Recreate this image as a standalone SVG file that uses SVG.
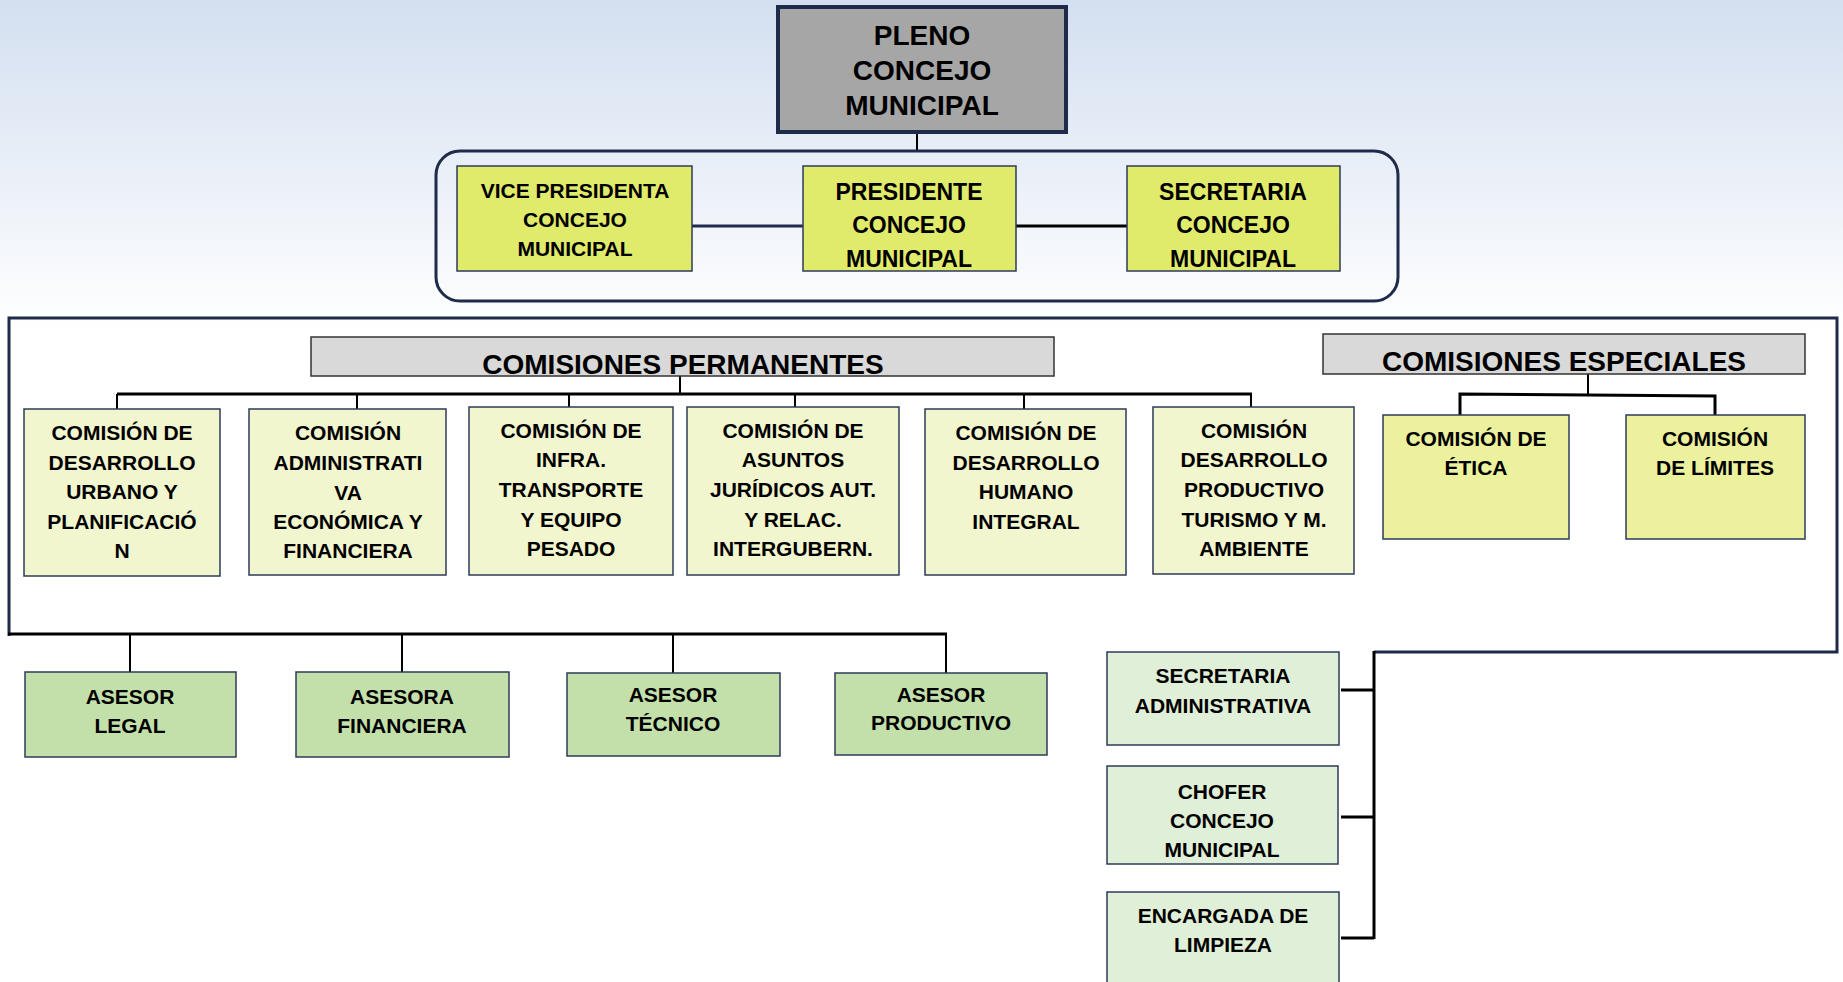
<svg xmlns="http://www.w3.org/2000/svg" width="1843" height="982" viewBox="0 0 1843 982">
<defs>
<linearGradient id="bg" x1="0" y1="0" x2="0" y2="330" gradientUnits="userSpaceOnUse">
<stop offset="0" stop-color="#d3dff0"/>
<stop offset="1" stop-color="#ffffff"/>
</linearGradient>
<style>
text{font-family:"Liberation Sans",Arial,sans-serif;font-weight:bold;fill:#000;text-anchor:middle}
.t21{font-size:21px}
.t23{font-size:23px}
.t28{font-size:28px}
.t27{font-size:28px}
.box{stroke:#2e3b5a;stroke-width:1.5}
.ylw{fill:#e1eb6b}
.pale{fill:#f2f6cf}
.esp{fill:#ebf19c}
.grn{fill:#c3e0ab}
.lgrn{fill:#e0efd7}
.hdr{fill:#d9d9d9;stroke:#333;stroke-width:1.5}
.c{stroke:#000;stroke-width:2;fill:none}
.cb{stroke:#000;stroke-width:3;fill:none}
.nav{stroke:#1f2b4a;stroke-width:3;fill:none}
</style>
</defs>
<rect x="0" y="0" width="1843" height="982" fill="url(#bg)"/>

<g id="connectors">
<line class="c" x1="917" y1="133" x2="917" y2="151"/>
<line class="nav" x1="692" y1="226" x2="803" y2="226" stroke-width="2.5"/>
<line class="cb" x1="1016" y1="226" x2="1127" y2="226"/>
<polyline class="nav" points="9,636 9,318 1837,318 1837,652 1374,652"/>
<line class="c" x1="680" y1="376" x2="680" y2="394"/>
<line class="cb" x1="117" y1="394" x2="1252" y2="394"/>
<line class="c" x1="117" y1="394" x2="117" y2="409"/>
<line class="c" x1="357" y1="394" x2="357" y2="409"/>
<line class="c" x1="569" y1="394" x2="569" y2="407"/>
<line class="c" x1="795" y1="394" x2="795" y2="407"/>
<line class="c" x1="1024" y1="394" x2="1024" y2="409"/>
<line class="c" x1="1251" y1="394" x2="1251" y2="407"/>
<line class="c" x1="1588" y1="374" x2="1588" y2="395"/>
<polyline class="cb" points="1460,415 1460,394 1715,396 1715,415"/>
<line class="cb" x1="8" y1="634" x2="947" y2="634"/>
<line class="c" x1="130" y1="634" x2="130" y2="672"/>
<line class="c" x1="402" y1="634" x2="402" y2="672"/>
<line class="c" x1="673" y1="634" x2="673" y2="673"/>
<line class="c" x1="946" y1="634" x2="946" y2="673"/>
<line class="cb" x1="1374" y1="651" x2="1374" y2="939"/>
<line class="cb" x1="1341" y1="690" x2="1374" y2="690"/>
<line class="cb" x1="1341" y1="817" x2="1374" y2="817"/>
<line class="cb" x1="1341" y1="938" x2="1374" y2="938"/>
</g>

<g id="pleno">
<rect x="778" y="7" width="288" height="125" fill="#a6a6a6" stroke="#1f2b4a" stroke-width="4"/>
<text class="t28" x="922" y="45">PLENO</text>
<text class="t28" x="922" y="80">CONCEJO</text>
<text class="t28" x="922" y="115">MUNICIPAL</text>
</g>

<g id="directiva">
<rect x="436" y="151" width="962" height="150" rx="24" ry="24" class="nav"/>
</g>

<g id="vicepresidenta">
<rect x="457" y="166" width="235" height="105" class="box ylw"/>
<text class="t21" x="575" y="198">VICE PRESIDENTA</text>
<text class="t21" x="575" y="227">CONCEJO</text>
<text class="t21" x="575" y="256">MUNICIPAL</text>
</g>
<g id="presidente">
<rect x="803" y="166" width="213" height="105" class="box ylw"/>
<text class="t23" x="909" y="200">PRESIDENTE</text>
<text class="t23" x="909" y="233">CONCEJO</text>
<text class="t23" x="909" y="267">MUNICIPAL</text>
</g>
<g id="secretaria">
<rect x="1127" y="166" width="213" height="105" class="box ylw"/>
<text class="t23" x="1233" y="200">SECRETARIA</text>
<text class="t23" x="1233" y="233">CONCEJO</text>
<text class="t23" x="1233" y="267">MUNICIPAL</text>
</g>

<g id="comisiones-permanentes">
<rect x="311" y="337" width="743" height="39" class="hdr"/>
<text class="t27" x="683" y="374">COMISIONES PERMANENTES</text>
</g>
<g id="comisiones-especiales">
<rect x="1323" y="334" width="482" height="40" class="hdr"/>
<text class="t27" x="1564" y="371">COMISIONES ESPECIALES</text>
</g>

<g id="com-urbano">
<rect x="24" y="409" width="196" height="167" class="box pale"/>
<text class="t21" x="122" y="440">COMISIÓN DE</text>
<text class="t21" x="122" y="470">DESARROLLO</text>
<text class="t21" x="122" y="499">URBANO Y</text>
<text class="t21" x="122" y="529">PLANIFICACIÓ</text>
<text class="t21" x="122" y="558">N</text>
</g>
<g id="com-administrativa">
<rect x="249" y="409" width="197" height="166" class="box pale"/>
<text class="t21" x="348" y="440">COMISIÓN</text>
<text class="t21" x="348" y="470">ADMINISTRATI</text>
<text class="t21" x="348" y="500">VA</text>
<text class="t21" x="348" y="529">ECONÓMICA Y</text>
<text class="t21" x="348" y="558">FINANCIERA</text>
</g>
<g id="com-infra">
<rect x="469" y="407" width="204" height="168" class="box pale"/>
<text class="t21" x="571" y="438">COMISIÓN DE</text>
<text class="t21" x="571" y="467">INFRA.</text>
<text class="t21" x="571" y="497">TRANSPORTE</text>
<text class="t21" x="571" y="527">Y EQUIPO</text>
<text class="t21" x="571" y="556">PESADO</text>
</g>
<g id="com-juridicos">
<rect x="687" y="407" width="212" height="168" class="box pale"/>
<text class="t21" x="793" y="438">COMISIÓN DE</text>
<text class="t21" x="793" y="467">ASUNTOS</text>
<text class="t21" x="793" y="497">JURÍDICOS AUT.</text>
<text class="t21" x="793" y="527">Y RELAC.</text>
<text class="t21" x="793" y="556">INTERGUBERN.</text>
</g>
<g id="com-humano">
<rect x="925" y="409" width="201" height="166" class="box pale"/>
<text class="t21" x="1026" y="440">COMISIÓN DE</text>
<text class="t21" x="1026" y="470">DESARROLLO</text>
<text class="t21" x="1026" y="499">HUMANO</text>
<text class="t21" x="1026" y="529">INTEGRAL</text>
</g>
<g id="com-productivo">
<rect x="1153" y="407" width="201" height="167" class="box pale"/>
<text class="t21" x="1254" y="438">COMISIÓN</text>
<text class="t21" x="1254" y="467">DESARROLLO</text>
<text class="t21" x="1254" y="497">PRODUCTIVO</text>
<text class="t21" x="1254" y="527">TURISMO Y M.</text>
<text class="t21" x="1254" y="556">AMBIENTE</text>
</g>

<g id="com-etica">
<rect x="1383" y="415" width="186" height="124" class="box esp"/>
<text class="t21" x="1476" y="446">COMISIÓN DE</text>
<text class="t21" x="1476" y="475">ÉTICA</text>
</g>
<g id="com-limites">
<rect x="1626" y="415" width="179" height="124" class="box esp"/>
<text class="t21" x="1715" y="446">COMISIÓN</text>
<text class="t21" x="1715" y="475">DE LÍMITES</text>
</g>

<g id="asesor-legal">
<rect x="25" y="672" width="211" height="85" class="box grn"/>
<text class="t21" x="130" y="704">ASESOR</text>
<text class="t21" x="130" y="733">LEGAL</text>
</g>
<g id="asesora-financiera">
<rect x="296" y="672" width="213" height="85" class="box grn"/>
<text class="t21" x="402" y="704">ASESORA</text>
<text class="t21" x="402" y="733">FINANCIERA</text>
</g>
<g id="asesor-tecnico">
<rect x="567" y="673" width="213" height="83" class="box grn"/>
<text class="t21" x="673" y="702">ASESOR</text>
<text class="t21" x="673" y="731">TÉCNICO</text>
</g>
<g id="asesor-productivo">
<rect x="835" y="673" width="212" height="82" class="box grn"/>
<text class="t21" x="941" y="702">ASESOR</text>
<text class="t21" x="941" y="730">PRODUCTIVO</text>
</g>

<g id="secretaria-administrativa">
<rect x="1107" y="652" width="232" height="93" class="box lgrn"/>
<text class="t21" x="1223" y="683">SECRETARIA</text>
<text class="t21" x="1223" y="713">ADMINISTRATIVA</text>
</g>
<g id="chofer">
<rect x="1107" y="766" width="231" height="98" class="box lgrn"/>
<text class="t21" x="1222" y="799">CHOFER</text>
<text class="t21" x="1222" y="828">CONCEJO</text>
<text class="t21" x="1222" y="857">MUNICIPAL</text>
</g>
<g id="limpieza">
<rect x="1107" y="892" width="232" height="100" class="box lgrn"/>
<text class="t21" x="1223" y="923">ENCARGADA DE</text>
<text class="t21" x="1223" y="952">LIMPIEZA</text>
</g>
</svg>
